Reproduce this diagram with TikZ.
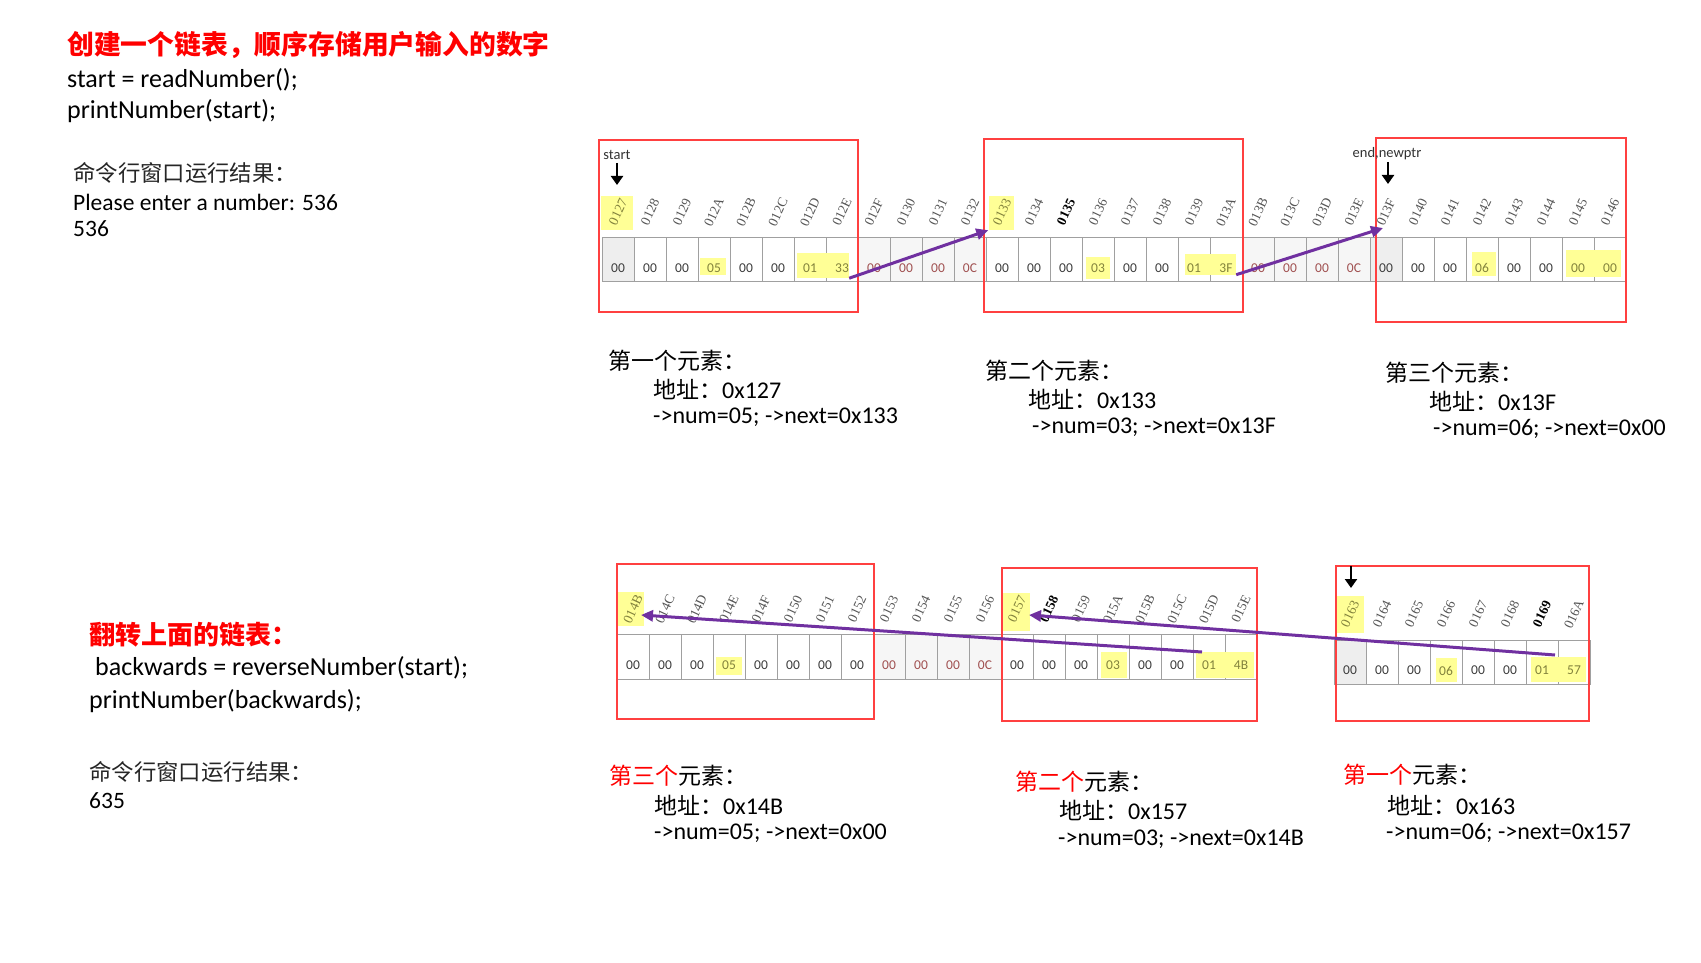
\documentclass[tikz,border=0pt]{standalone}
\usepackage{fontspec}
\setmainfont{Carlito}
\newfontfamily\cjk{Noto Sans CJK SC}
\newfontfamily\addrfont{Liberation Serif}
\usetikzlibrary{arrows.meta}
\definecolor{boxred}{RGB}{255,64,64}
\definecolor{cellb}{RGB}{160,160,160}
\definecolor{cellF}{RGB}{238,238,238}
\definecolor{cellG}{RGB}{246,246,246}
\definecolor{hly}{RGB}{255,255,150}
\definecolor{olivet}{RGB}{130,130,60}
\definecolor{valt}{RGB}{60,60,60}
\definecolor{gapt}{RGB}{160,80,80}
\definecolor{labt}{RGB}{85,85,85}
\definecolor{ptrpurple}{RGB}{112,48,160}
\newcommand\valN{\color{valt}}
\newcommand\valG{\color{gapt}}
\newcommand\valH{\color{olivet}}
\newcommand\labN{\color{labt}}
\newcommand\labB{\color{black}\bfseries}
\newcommand\labH{\color{olivet}}
\newcommand\zh[1]{{\cjk\fontsize{23}{27}\selectfont #1}}
\newcommand\zhr[1]{{\cjk\fontsize{23}{27}\selectfont\color{red}#1}}

\def\toprow{0127/00/cellF/\valN/\labH, 0128/00/white/\valN/\labN, 0129/00/white/\valN/\labN, 012A/05/white/\valH/\labN,
012B/00/white/\valN/\labN, 012C/00/white/\valN/\labN, 012D/01/white/\valH/\labN, 012E/33/white/\valH/\labN,
012F/00/cellG/\valG/\labN, 0130/00/cellG/\valG/\labN, 0131/00/cellG/\valG/\labN, 0132/0C/cellG/\valG/\labN,
0133/00/white/\valN/\labH, 0134/00/white/\valN/\labN, 0135/00/white/\valN/\labB, 0136/03/white/\valH/\labN,
0137/00/white/\valN/\labN, 0138/00/white/\valN/\labN, 0139/01/white/\valH/\labN, 013A/3F/white/\valH/\labN,
013B/00/cellG/\valG/\labN, 013C/00/cellG/\valG/\labN, 013D/00/cellG/\valG/\labN, 013E/0C/cellG/\valG/\labN,
013F/00/cellF/\valN/\labN, 0140/00/white/\valN/\labN, 0141/00/white/\valN/\labN, 0142/06/white/\valH/\labN,
0143/00/white/\valN/\labN, 0144/00/white/\valN/\labN, 0145/00/white/\valH/\labN, 0146/00/white/\valH/\labN}

\def\botrow{014B/00/white/\valN/\labH, 014C/00/white/\valN/\labN, 014D/00/white/\valN/\labN, 014E/05/white/\valH/\labN,
014F/00/white/\valN/\labN, 0150/00/white/\valN/\labN, 0151/00/white/\valN/\labN, 0152/00/white/\valN/\labN,
0153/00/cellG/\valG/\labN, 0154/00/cellG/\valG/\labN, 0155/00/cellG/\valG/\labN, 0156/0C/cellG/\valG/\labN,
0157/00/white/\valN/\labH, 0158/00/white/\valN/\labB, 0159/00/white/\valN/\labN, 015A/03/white/\valH/\labN,
015B/00/white/\valN/\labN, 015C/00/white/\valN/\labN, 015D/01/white/\valH/\labN, 015E/4B/white/\valH/\labN}

\def\crow{0163/00/cellF/\valN/\labH, 0164/00/white/\valN/\labN, 0165/00/white/\valN/\labN, 0166/06/white/\valH/\labN,
0167/00/white/\valN/\labN, 0168/00/white/\valN/\labN, 0169/01/white/\valH/\labB, 016A/57/white/\valH/\labN}

\begin{document}
\begin{tikzpicture}[x=1pt,y=-1pt,
  cell/.style={draw=cellb, line width=1pt, inner sep=0pt, minimum width=32pt, minimum height=44pt},
  val/.style={inner sep=0pt, font=\fontsize{13.5}{15}\selectfont},
  lab/.style={inner sep=0pt, rotate=65, font=\addrfont\fontsize{13.5}{15}\selectfont},
  hl/.style={fill=hly, draw=none, inner sep=0pt},
  redbox/.style={draw=boxred, line width=1.3pt, inner sep=0pt},
  ptr/.style={draw=ptrpurple, line width=3pt, -{Triangle[length=12pt,width=11pt]}},
  blk/.style={draw=black, line width=2.2pt, -{Triangle[length=9pt,width=12pt]}},
  code/.style={anchor=west, inner sep=0pt, font=\fontsize{26}{30}\selectfont},
  outt/.style={anchor=west, inner sep=0pt, font=\fontsize{23.5}{28}\selectfont},
  cjkout/.style={anchor=west, inner sep=0pt, text=black!85, font=\cjk\fontsize{22.4}{26}\selectfont},
  ttl/.style={anchor=west, inner sep=0pt, text=red, font=\cjk\bfseries\fontsize{26.8}{30}\selectfont},
  desc/.style={anchor=west, inner sep=0pt, font=\fontsize{24}{28}\selectfont},
  ptrlab/.style={inner sep=0pt, text=black!80, font=\fontsize{14.5}{16}\selectfont}
]
\fill[white] (0,0) rectangle (1701,963);
\useasboundingbox (0,0) rectangle (1701,963);

% ---------------- left texts ----------------
\node[ttl] (title1) at (67,45) {创建一个链表，顺序存储用户输入的数字};
\node[code] (code1) at (67,80) {start = readNumber();};
\node[code] (code2) at (67,111) {printNumber(start);};
\node[cjkout] (res1) at (73,173) {命令行窗口运行结果：};
\node[outt] (res1a) at (73,202) {Please enter a number: 536};
\node[outt] (res1b) at (73,229) {536};

\node[ttl, font=\cjk\bfseries\fontsize{26}{29}\selectfont] (title2) at (89,635) {翻转上面的链表：};
\node[code] (code3) at (95,668) {backwards = reverseNumber(start);};
\node[code] (code4) at (89,701) {printNumber(backwards);};
\node[cjkout] (res2) at (89,772) {命令行窗口运行结果：};
\node[outt] (res2a) at (89,801) {635};

% ---------------- top row cells ----------------
\foreach \lab/\v/\fc/\vf/\lf [count=\n from 0] in \toprow {
  \node[cell, fill=\fc] (t\n) at ({618+32*\n},259) {};
}
% highlights top
\node[hl, minimum width=32pt, minimum height=34pt] (hT0127) at (617,213) {};
\node[hl, minimum width=25pt, minimum height=34pt] (hT0133) at (1001,213) {};
\node[hl, minimum width=26pt, minimum height=17pt] (hT05) at (713,266) {};
\node[hl, minimum width=52pt, minimum height=25pt] (hT0133v) at (823,265.5) {};
\node[hl, minimum width=24pt, minimum height=22pt] (hT03) at (1098,268) {};
\node[hl, minimum width=51pt, minimum height=21pt] (hT013Fv) at (1210.5,264) {};
\node[hl, minimum width=24pt, minimum height=24pt] (hT06) at (1484,264) {};
\node[hl, minimum width=55pt, minimum height=27pt] (hT00v) at (1593.5,263.5) {};
\foreach \lab/\v/\fc/\vf/\lf [count=\n from 0] in \toprow {
  \node[val] (tv\n) at ({618+32*\n},268) {\vf\v};
  \node[lab] (tl\n) at ({618+32*\n},212) {\lf\lab};
}

% ---------------- bottom row cells ----------------
\foreach \lab/\v/\fc/\vf/\lf [count=\n from 0] in \botrow {
  \node[cell, fill=\fc, minimum height=45pt] (b\n) at ({633+32*\n},656.5) {};
}
\foreach \lab/\v/\fc/\vf/\lf [count=\n from 0] in \crow {
  \node[cell, fill=\fc] (c\n) at ({1350+32*\n},662) {};
}
% highlights bottom
\node[hl, minimum width=26pt, minimum height=34pt] (hB014B) at (631,609) {};
\node[hl, minimum width=28pt, minimum height=38pt] (hB0157) at (1016,612) {};
\node[hl, minimum width=26pt, minimum height=18pt] (hB05) at (729,666) {};
\node[hl, minimum width=26pt, minimum height=26pt] (hB03) at (1114,665) {};
\node[hl, minimum width=58pt, minimum height=26pt] (hB014Bv) at (1225,665) {};
\node[hl, minimum width=29pt, minimum height=37pt] (hB0163) at (1349.5,614.5) {};
\node[hl, minimum width=21pt, minimum height=24pt] (hB06) at (1446.5,670) {};
\node[hl, minimum width=55pt, minimum height=25pt] (hB0157v) at (1558.5,669.5) {};
\foreach \lab/\v/\fc/\vf/\lf [count=\n from 0] in \botrow {
  \node[val] (bv\n) at ({633+32*\n},665.5) {\vf\v};
  \node[lab] (bl\n) at ({633+32*\n},609) {\lf\lab};
}
\foreach \lab/\v/\fc/\vf/\lf [count=\n from 0] in \crow {
  \node[val] (cv\n) at ({1350+32*\n},670.5) {\vf\v};
  \node[lab] (cl\n) at ({1350+32*\n},614) {\lf\lab};
}

% ---------------- red boxes ----------------
\node[redbox, minimum width=259pt, minimum height=172pt] (box1) at (728.5,226) {};
\node[redbox, minimum width=259pt, minimum height=173pt] (box2) at (1113.5,225.5) {};
\node[redbox, minimum width=250pt, minimum height=184pt] (box3) at (1501,230) {};
\node[redbox, minimum width=257pt, minimum height=155pt] (boxA) at (745.5,641.5) {};
\node[redbox, minimum width=255pt, minimum height=153pt] (boxB) at (1129.5,644.5) {};
\node[redbox, minimum width=253pt, minimum height=155pt] (boxC) at (1462.5,643.5) {};

% ---------------- pointer labels ----------------
\node[ptrlab] (startlab) at (617,155) {start};
\node[ptrlab] (endlab) at (1387,154) {end,newptr};
\coordinate (sa1) at (617,163);
\coordinate (sa2) at (617,185);
\coordinate (ea1) at (1388,162);
\coordinate (ea2) at (1388,184);
\coordinate (ca1) at (1351,566);
\coordinate (ca2) at (1351,588);
\draw[blk] (sa1) -- (sa2);
\draw[blk] (ea1) -- (ea2);
\draw[blk] (ca1) -- (ca2);

% ---------------- purple pointers ----------------
\coordinate (e013F) at (1383,228);
\coordinate (sC01) at (1555,655);
\coordinate (sB01) at (1202,652);
\coordinate (e014B) at (641,615);
\coordinate (e0157) at (1029,615);
\draw[ptr] (hT0133v.south east) -- (hT0133.south west);
\draw[ptr] (hT013Fv.south east) -- (e013F);
\draw[ptr] (sC01) -- (e0157);
\draw[ptr] (sB01) -- (e014B);

% ---------------- element descriptions ----------------
\node[desc] (d1a) at (608,361) {\zh{第一个元素：}};
\node[desc] (d1b) at (653,389) {\zh{地址：}0x127};
\node[desc] (d1c) at (653,417) {->num=05; ->next=0x133};
\node[desc] (d2a) at (985,371) {\zh{第二个元素：}};
\node[desc] (d2b) at (1028,399) {\zh{地址：}0x133};
\node[desc] (d2c) at (1032,427) {->num=03; ->next=0x13F};
\node[desc] (d3a) at (1385,373) {\zh{第三个元素：}};
\node[desc] (d3b) at (1429,401) {\zh{地址：}0x13F};
\node[desc] (d3c) at (1433,429) {->num=06; ->next=0x00};

\node[desc] (e1a) at (609,776) {\zhr{第三个}\zh{元素：}};
\node[desc] (e1b) at (654,805) {\zh{地址：}0x14B};
\node[desc] (e1c) at (654,833) {->num=05; ->next=0x00};
\node[desc] (e2a) at (1015,782) {\zhr{第二个}\zh{元素：}};
\node[desc] (e2b) at (1059,810) {\zh{地址：}0x157};
\node[desc] (e2c) at (1058,839) {->num=03; ->next=0x14B};
\node[desc] (e3a) at (1343,775) {\zhr{第一个}\zh{元素：}};
\node[desc] (e3b) at (1387,805) {\zh{地址：}0x163};
\node[desc] (e3c) at (1386,833) {->num=06; ->next=0x157};
\end{tikzpicture}
\end{document}
